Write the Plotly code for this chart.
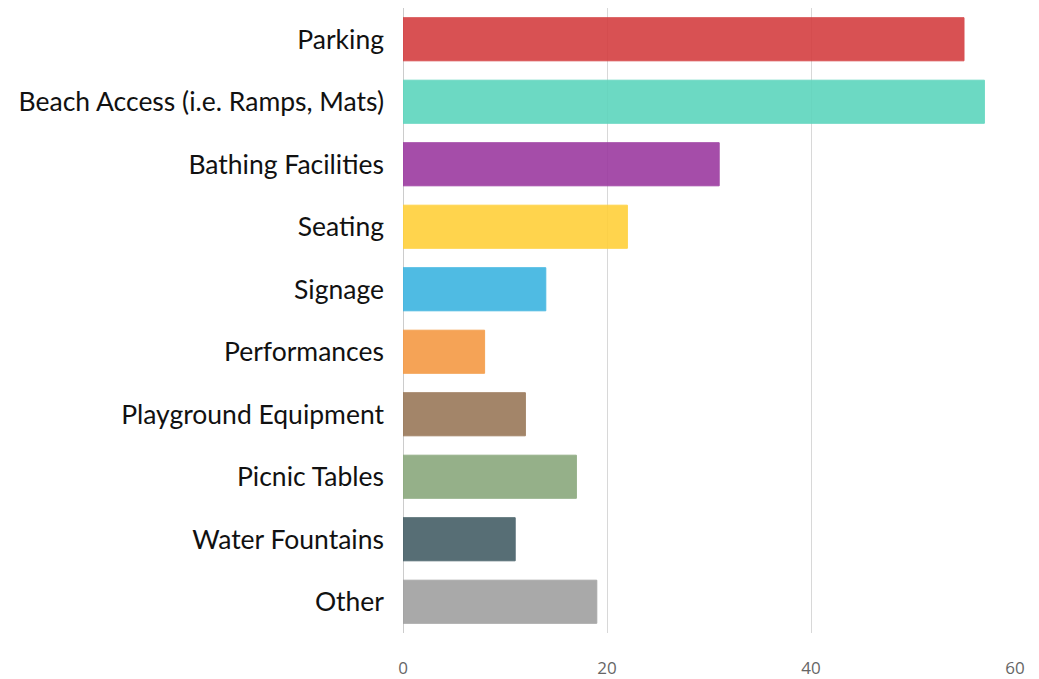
import plotly.graph_objects as go

categories = ["Parking", "Beach Access (i.e. Ramps, Mats)", "Bathing Facilities", "Seating",
              "Signage", "Performances", "Playground Equipment", "Picnic Tables",
              "Water Fountains", "Other"]
values = [55, 57, 31, 22, 14, 8, 12, 17, 11, 19]
colors = ["#d43f41", "#5dd5bd", "#9c3aa0", "#ffd03a", "#3db4e0", "#f49a44",
          "#9a7859", "#8aa87d", "#455f67", "#a0a0a0"]
tick_vals = [0, 20, 40, 60]

fig = go.Figure(go.Bar(
    x=values, y=categories, orientation="h",
    marker=dict(color=colors, opacity=0.9, line=dict(color=colors, width=1)),
    hoverinfo="x+y",
))

fig.update_layout(
    width=1031, height=671,
    margin=dict(l=395, r=24, t=0, b=41),
    plot_bgcolor="white", paper_bgcolor="white",
    bargap=0.31,
    showlegend=False,
    xaxis=dict(range=[0, 60], tickvals=tick_vals, showgrid=True, gridcolor="#d8d8d8",
               gridwidth=1, zeroline=True, zerolinecolor="#cccccc", zerolinewidth=1,
               tickfont=dict(family="Open Sans", size=17, color="#666666"),
               ticklabelstandoff=23, fixedrange=True),
    yaxis=dict(categoryorder="array", categoryarray=categories, autorange="reversed",
               tickfont=dict(family="Lato", size=26.5, color="#111111"),
               ticklabelstandoff=18, showgrid=False, fixedrange=True),
)

fig.write_html("out.html")
